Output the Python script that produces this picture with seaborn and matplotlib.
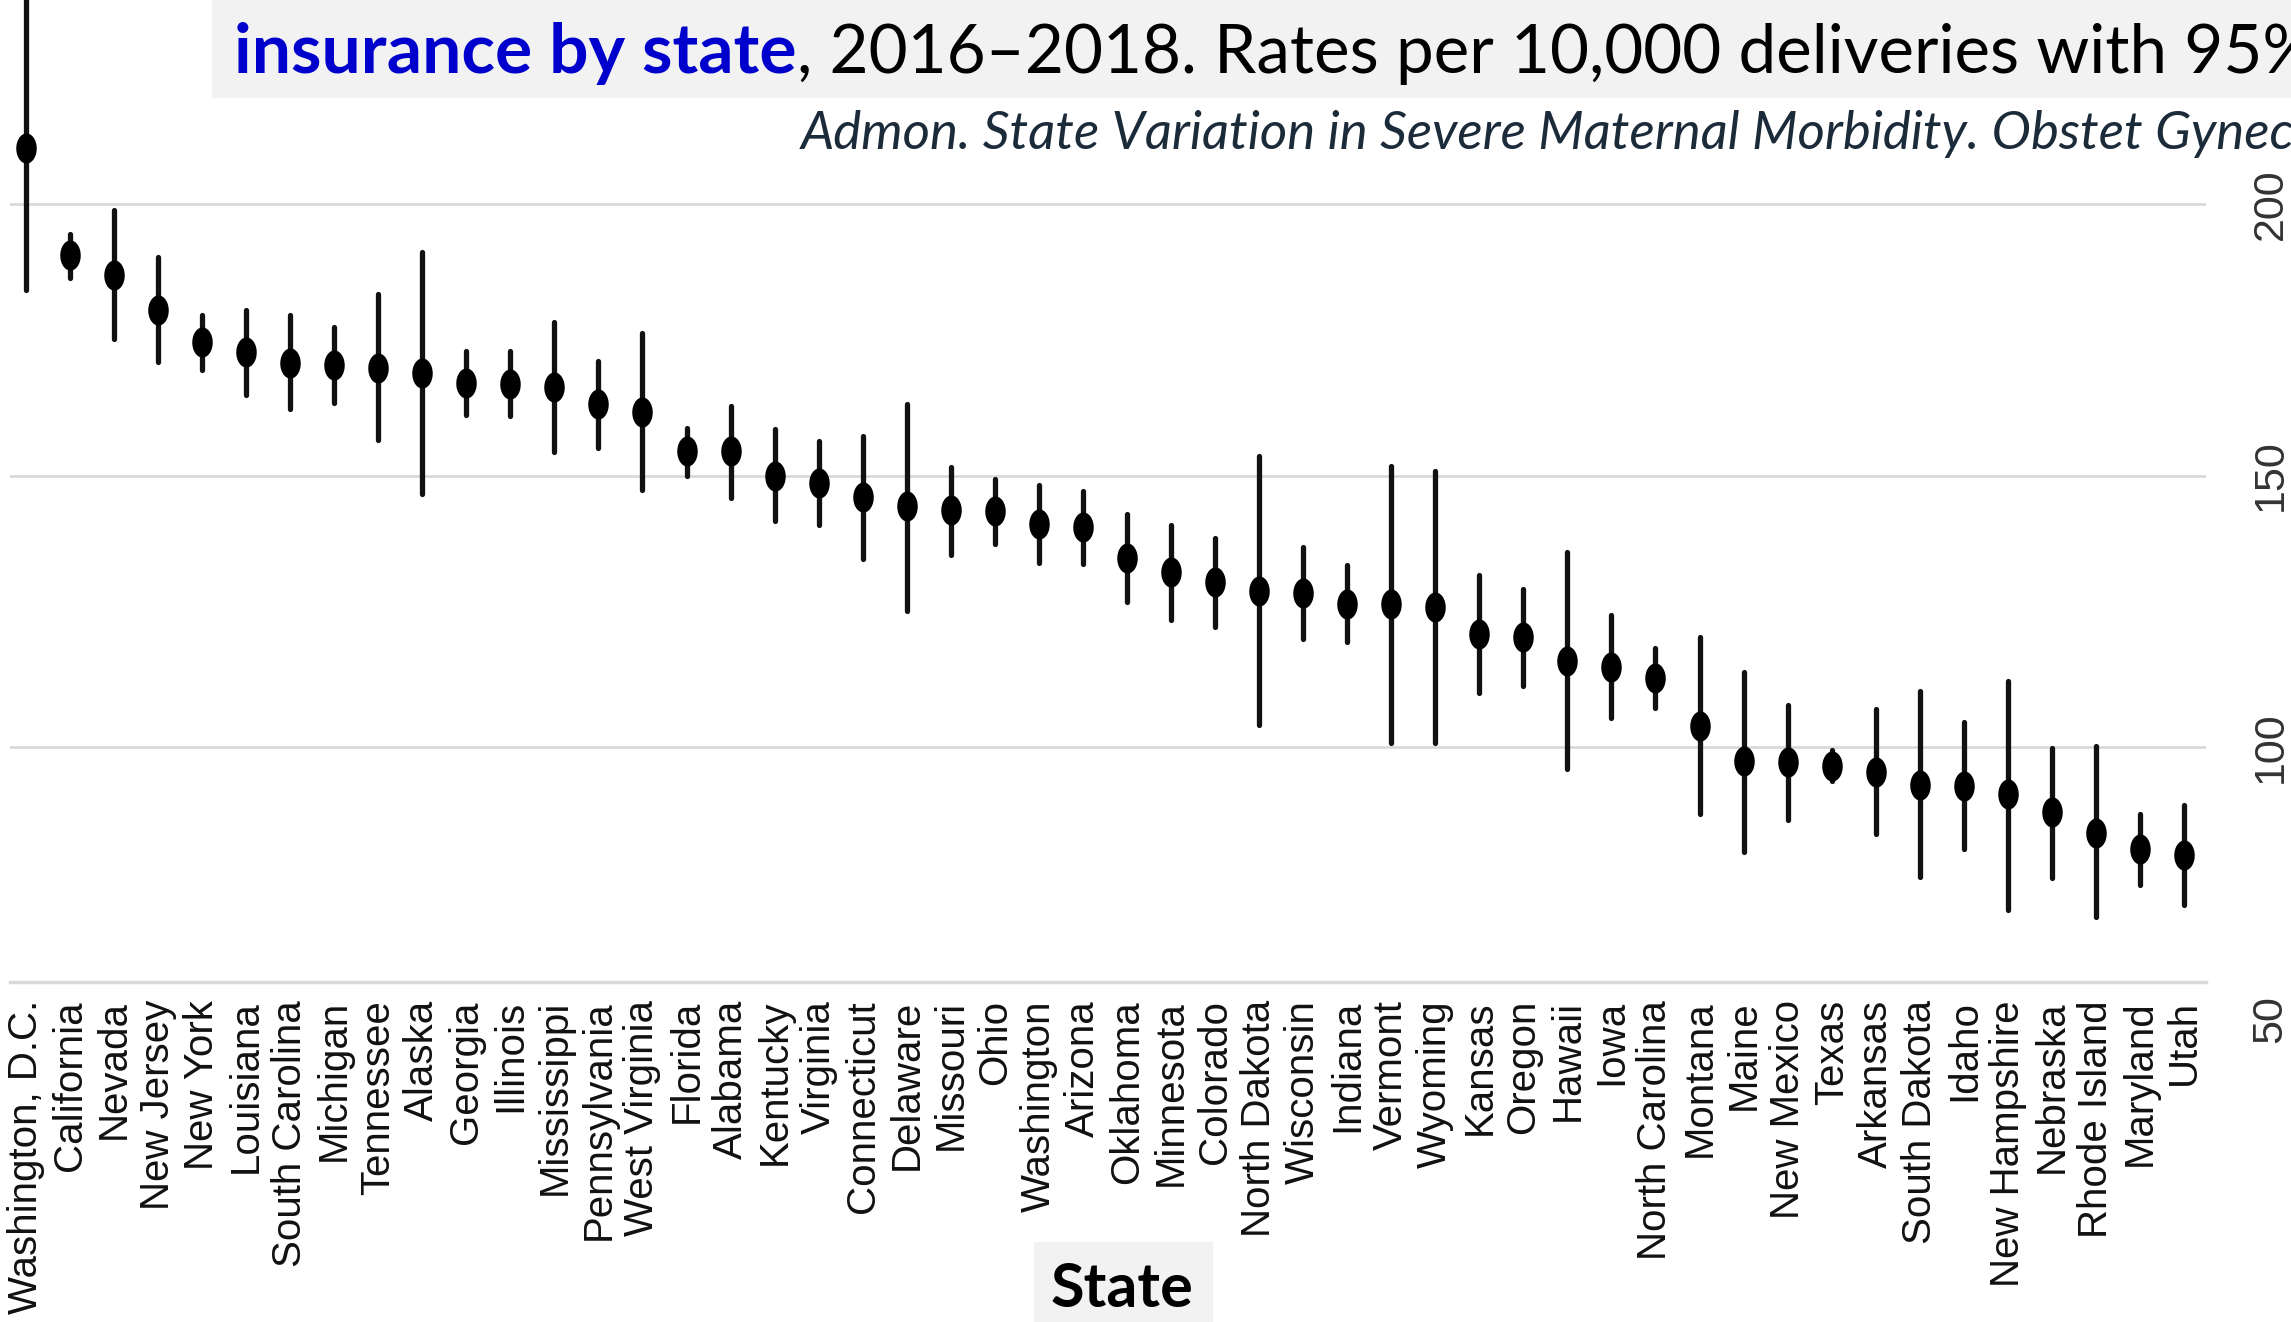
import numpy as np
import pandas as pd
import matplotlib
matplotlib.use('Agg')
import matplotlib.pyplot as plt
from matplotlib.path import Path
from matplotlib.patches import Rectangle
import seaborn as sns

states = ['Washington, D.C.', 'California', 'Nevada', 'New Jersey', 'New York', 'Louisiana',
          'South Carolina', 'Michigan', 'Tennessee', 'Alaska', 'Georgia', 'Illinois',
          'Mississippi', 'Pennsylvania', 'West Virginia', 'Florida', 'Alabama', 'Kentucky',
          'Virginia', 'Connecticut', 'Delaware', 'Missouri', 'Ohio', 'Washington', 'Arizona',
          'Oklahoma', 'Minnesota', 'Colorado', 'North Dakota', 'Wisconsin', 'Indiana',
          'Vermont', 'Wyoming', 'Kansas', 'Oregon', 'Hawaii', 'Iowa', 'North Carolina',
          'Montana', 'Maine', 'New Mexico', 'Texas', 'Arkansas', 'South Dakota', 'Idaho',
          'New Hampshire', 'Nebraska', 'Rhode Island', 'Maryland', 'Utah']

rate = [210.3, 190.6, 186.9, 180.5, 174.6, 172.8, 170.7, 170.3, 169.8, 168.9, 167.0, 166.9,
        166.3, 163.2, 161.7, 154.5, 154.5, 150.0, 148.7, 146.0, 144.3, 143.6, 143.4, 141.0,
        140.5, 134.8, 132.3, 130.4, 128.7, 128.4, 126.3, 126.3, 125.8, 120.8, 120.2, 115.9,
        114.8, 112.8, 103.9, 97.4, 97.2, 96.6, 95.5, 93.1, 92.9, 91.4, 88.0, 84.3, 81.2, 80.2]

lower = [184.1, 186.4, 175.1, 170.8, 169.5, 164.8, 162.2, 163.4, 156.6, 146.6, 161.2, 161.0,
         154.3, 155.0, 147.3, 150.0, 145.9, 141.6, 140.9, 134.6, 125.1, 135.4, 137.4, 133.9,
         133.7, 126.7, 123.4, 122.1, 104.0, 120.0, 119.3, 100.8, 100.8, 110.0, 111.3, 96.0,
         105.4, 107.3, 87.7, 80.8, 86.7, 93.7, 84.0, 76.2, 81.3, 70.1, 75.9, 68.8, 74.7, 70.9]

upper = [240.0, 194.5, 198.9, 190.3, 179.5, 180.5, 179.5, 177.4, 183.4, 191.2, 172.9, 172.9,
         178.2, 171.0, 176.2, 158.8, 162.8, 158.5, 156.3, 157.3, 163.2, 151.5, 149.4, 148.2,
         147.2, 143.0, 140.9, 138.5, 153.6, 136.8, 133.5, 151.8, 150.8, 131.7, 129.1, 135.9,
         124.3, 118.2, 120.2, 113.9, 107.8, 99.5, 107.0, 110.4, 104.6, 112.1, 99.9, 100.2,
         87.8, 89.4]

df = pd.DataFrame({'state': states, 'rate': rate, 'lower': lower, 'upper': upper})

sns.set_theme(style='white')
plt.rcParams['font.family'] = ['Liberation Sans', 'DejaVu Sans']

W, H = 2291, 1322
fig = plt.figure(figsize=(W / 100, H / 100), dpi=100)
fig.patch.set_facecolor('white')

# grey boxes behind the title and the axis label
fig.patches.append(Rectangle((212 / W, 1 - 98 / H), 1, 98 / H, transform=fig.transFigure,
                             facecolor='#f2f2f2', edgecolor='none', zorder=-1))
fig.patches.append(Rectangle((1034 / W, 0), 179 / W, 80 / H, transform=fig.transFigure,
                             facecolor='#f2f2f2', edgecolor='none', zorder=-1))

ax = fig.add_axes([10 / W, 1 - 982 / H, (2206 - 10) / W, 982 / H])
ax.patch.set_alpha(0)

# confidence intervals
ax.vlines(df.state, df.lower, df.upper, color='#111111', linewidth=3.8, capstyle='round', zorder=2)

# ellipse point marker (the source image is stretched vertically)
theta = np.linspace(0, 2 * np.pi, 64)
ell = Path(np.column_stack([0.68 * np.cos(theta), np.sin(theta)]), closed=True)
sns.scatterplot(data=df, x='state', y='rate', marker=ell, s=470, color='black',
                linewidth=0, ax=ax, zorder=3)

ax.set_xlim(-0.36, 49.5)
ax.set_ylim(56.8, 237.5)
ax.set_xlabel('')
ax.set_ylabel('')

ax.set_yticks([100, 150, 200])
ax.yaxis.tick_right()
ax.tick_params(axis='y', length=0, pad=32, labelsize=31, labelcolor='#333333', labelrotation=90)
for lbl in ax.get_yticklabels():
    lbl.set_va('center')
ax.annotate('50', xy=(1, 50), xycoords=('axes fraction', 'data'), xytext=(32, 0),
            textcoords='offset points', rotation=90, ha='left', va='center',
            fontsize=31, color='#333333', annotation_clip=False)

ax.tick_params(axis='x', length=0, pad=13, labelsize=29, labelcolor='#111111', labelrotation=90)

ax.grid(axis='y', color='#d9d9d9', linewidth=2)
ax.grid(axis='x', visible=False)
for side in ['left', 'top', 'right']:
    ax.spines[side].set_visible(False)
ax.spines['bottom'].set_color('#d9d9d9')
ax.spines['bottom'].set_linewidth(2.5)

# title line (cut off at the right like the slide it came from)
t1 = fig.text(234 / W, 1 - 73 / H, 'insurance by state', family='Lato', fontweight='bold',
              fontsize=50, color='#0000cc', va='baseline', ha='left')
fig.canvas.draw()
bb = t1.get_window_extent()
fig.text(bb.x1 / W, 1 - 73 / H, ', 2016\u20132018. Rates per 10,000 deliveries with 95%',
         family='Lato', fontsize=48.5, color='black', va='baseline', ha='left')

fig.text(801 / W, 1 - 134 / H,
         'Admon. State Variation in Severe Maternal Morbidity. Obstet Gynecol',
         family='Lato', style='italic', fontsize=38, color='#1c2b3a', va='center', ha='left')

fig.text(1122 / W, 1 - 1289 / H, 'State', family='Lato', fontweight='bold', fontsize=44,
         color='black', va='center', ha='center')

fig.savefig('out.png', dpi=100)
